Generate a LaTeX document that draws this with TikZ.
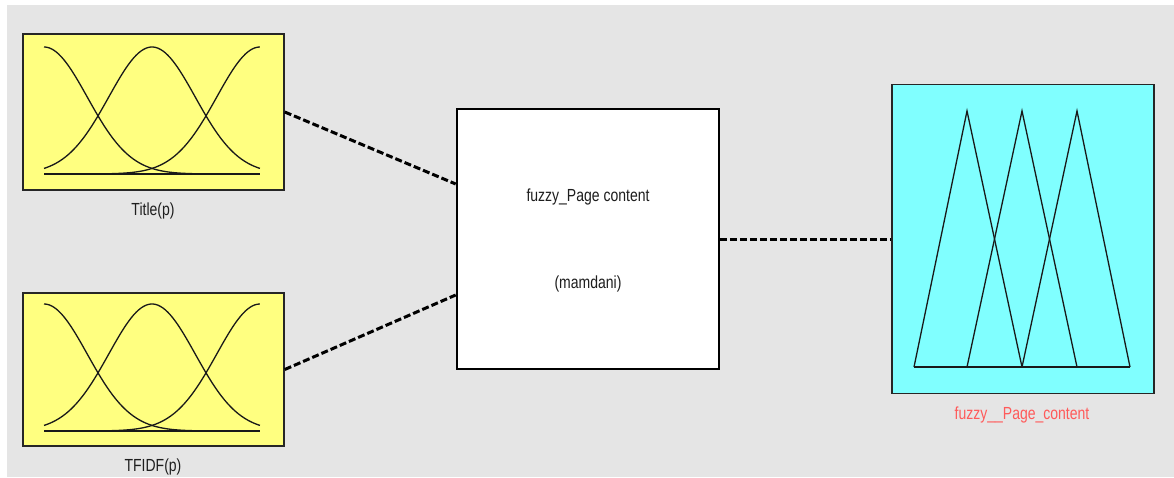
\documentclass[tikz,border=0pt]{standalone}
\usepackage{fontspec}
\setmainfont[FakeStretch=0.8]{Liberation Sans}
\definecolor{bggray}{RGB}{229,229,229}
\definecolor{inyellow}{RGB}{255,255,128}
\definecolor{outcyan}{RGB}{128,255,255}
\definecolor{outred}{RGB}{255,90,90}
\definecolor{txt}{RGB}{30,30,30}
\begin{document}
\begin{tikzpicture}[x=1pt,y=-1pt,
  inbox/.style={draw=black!85, line width=1.5pt, fill=inyellow, minimum width=261pt, inner sep=0pt},
  fisbox/.style={draw=black, line width=2.6pt, fill=white, minimum width=262pt, minimum height=260pt, inner sep=0pt},
  outbox/.style={draw=black!85, line width=1.5pt, fill=outcyan, minimum width=262pt, minimum height=309pt, inner sep=0pt},
  lbl/.style={font=\fontsize{17.5}{19}\selectfont, text=txt, inner sep=0pt},
  mf/.style={line width=1.3pt, black!90},
  conn/.style={line width=3pt, dash pattern=on 7pt off 3pt, black}
]
\useasboundingbox (0,0) rectangle (1174,477);
\fill[white] (0,0) rectangle (1174,477);
\fill[bggray] (7,5) rectangle (1174,477);

% boxes
\node[inbox, minimum height=156pt] (title) at (153.5,112) {};
\node[inbox, minimum height=153pt] (tfidf) at (153.5,369.5) {};
\node[fisbox] (fis) at (588,239) {};
\node[outbox] (out) at (1023,239) {};

% gaussian membership functions (input 1)
\foreach \c in {0,0.5,1}{
  \draw[mf] plot[domain=0:1, samples=90, smooth] ({44+216*\x},{174-127*exp(-((\x-\c)^2)/0.08)});
}
\draw[mf] (44,174) -- (260,174);
% input 2
\foreach \c in {0,0.5,1}{
  \draw[mf] plot[domain=0:1, samples=90, smooth] ({44+216*\x},{431-127*exp(-((\x-\c)^2)/0.08)});
}
\draw[mf] (44,431) -- (260,431);

% triangular membership functions (output)
\draw[mf, line join=miter] (914,367) -- (967,111) -- (1022,367);
\draw[mf, line join=miter] (967,367) -- (1022,111) -- (1077,367);
\draw[mf, line join=miter] (1022,367) -- (1077,111) -- (1130,367);
\draw[mf] (914,367) -- (1130,367);

% labels
\node[lbl] (ltitle) at (153,211) {Title(p)};
\node[lbl] (ltfidf) at (153,467) {TFIDF(p)};
\node[lbl] (lfis1) at (588,197) {fuzzy\_Page content};
\node[lbl] (lfis2) at (588,284) {(mamdani)};
\node[lbl, text=outred] (lout) at (1022,415) {fuzzy\_\_Page\_content};

% connectors
\coordinate (in1) at (fis.west |- 0,184);
\coordinate (in2) at (fis.west |- 0,295);
\draw[conn] (title.east) -- (in1);
\draw[conn] (tfidf.east) -- (in2);
\draw[conn] (fis.east) -- (out.west);
\end{tikzpicture}
\end{document}
